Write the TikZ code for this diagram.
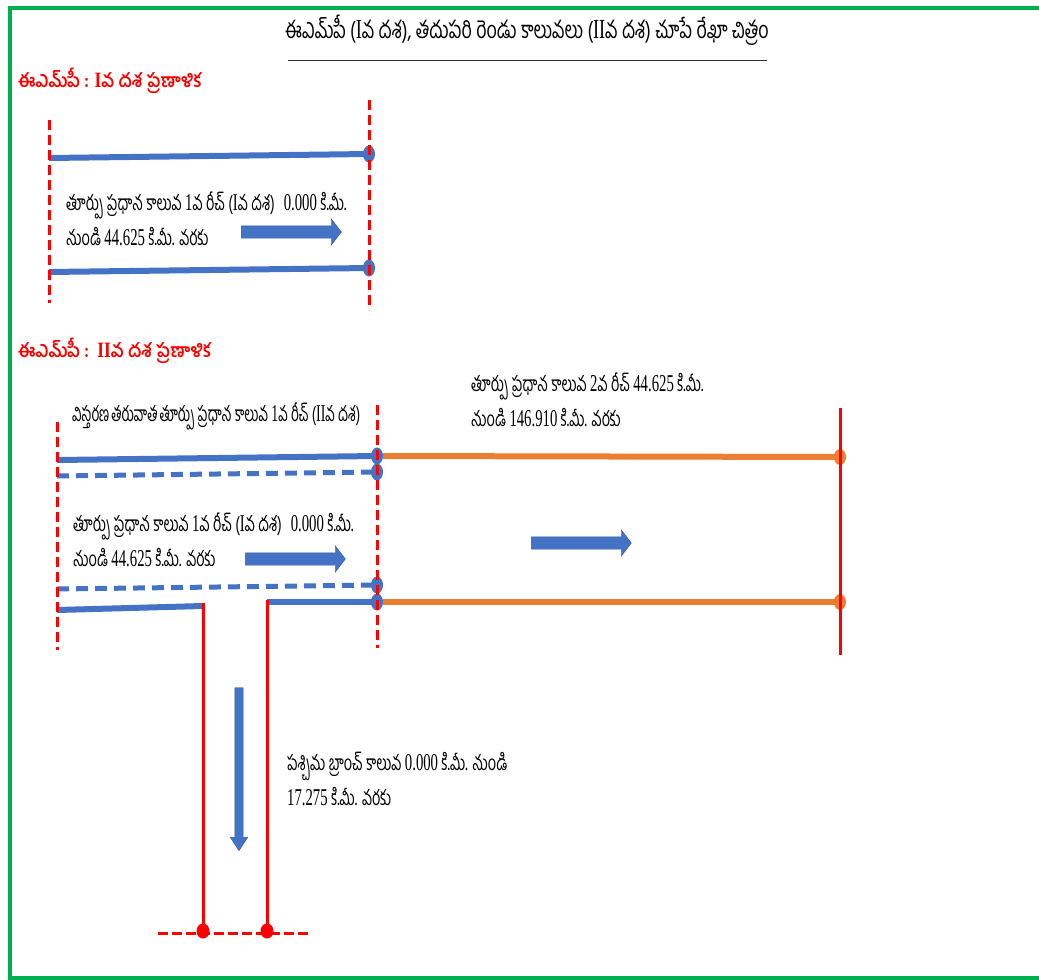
\documentclass[tikz,border=0pt]{standalone}
\usepackage{fontspec}
\setmainfont[Script=Telugu,FakeStretch=0.69]{Hind Guntur}
\newfontfamily\lat[Scale=1.15,FakeStretch=0.61]{Liberation Serif}
\usetikzlibrary{shapes.arrows, shapes.geometric, positioning}
\definecolor{mblue}{HTML}{4472C4}
\definecolor{morange}{HTML}{ED7D31}
\definecolor{mred}{HTML}{FF0000}
\definecolor{mgreen}{HTML}{00B050}
\newcommand{\wide}[2]{\scalebox{#1}[1]{#2}}
\tikzstyle{greenframe} = [mgreen, line width=4pt]
\tikzstyle{titletext} = [anchor=base, inner sep=0, font=\fontsize{24}{28}\selectfont]
\tikzstyle{heading} = [anchor=base west, inner sep=0, text=mred, font=\fontsize{19}{22}\selectfont\bfseries]
\tikzstyle{note} = [anchor=base west, inner sep=0, align=left, font=\fontsize{21}{35}\selectfont]
\tikzstyle{canal} = [mblue, line width=6pt]
\tikzstyle{oldcanal} = [mblue, line width=5pt, dash pattern=on 12pt off 7pt]
\tikzstyle{newcanal} = [morange, line width=6pt]
\tikzstyle{limit} = [mred, line width=3pt, dash pattern=on 10pt off 5pt]
\tikzstyle{endline} = [mred, line width=3pt]
\tikzstyle{offtake} = [mred, line width=3pt, dash pattern=on 10pt off 4pt]
\tikzstyle{bluejoint} = [ellipse, fill=mblue, inner sep=0, minimum width=12pt, minimum height=17pt]
\tikzstyle{orangejoint} = [ellipse, fill=morange, inner sep=0, minimum width=12pt, minimum height=16pt]
\tikzstyle{redjoint} = [ellipse, fill=mred, inner sep=0, minimum width=13pt, minimum height=15pt]
\tikzstyle{flow} = [single arrow, fill=mblue, draw=mblue!80!black, thin, inner xsep=0, inner ysep=6pt, single arrow head extend=7pt, single arrow tip angle=105, minimum height=100pt]
\tikzstyle{flowdown} = [single arrow, fill=mblue, draw=mblue!80!black, thin, inner xsep=0, inner ysep=4pt, single arrow head extend=4.5pt, single arrow tip angle=66, minimum height=163pt, rotate=-90]

\begin{document}
\begin{tikzpicture}[x=1pt, y=-1pt]
  \useasboundingbox (0,0) rectangle (1039,980);
  \draw [greenframe] (1045,8) -- (10,8) -- (10,978) -- (1045,978);

  % title
  \node (title) [titletext] at (527,38) {\wide{1.08}{ఈఎమ్‌పీ ({\lat I}వ దశ), తదుపరి రెండు కాలువలు ({\lat II}వ దశ) చూపే రేఖా చిత్రం}};
  \coordinate (ruleL) at (288,60);
  \coordinate (ruleR) at (767,60);
  \draw [black!80, line width=1pt] (ruleL) -- (ruleR);

  % phase I
  \node (head1) [heading] at (18,87) {\wide{1.3}{ఈఎమ్‌పీ : {\lat I}వ దశ ప్రణాళిక}};
  \coordinate (aTop) at (49,158);
  \coordinate (aBot) at (49,272);
  \node (aTopEnd) [bluejoint] at (369,154) {};
  \node (aBotEnd) [bluejoint] at (369,268) {};
  \draw [canal] (aTop) -- (aTopEnd.center);
  \draw [canal] (aBot) -- (aBotEnd.center);
  \coordinate (limA1) at (49,120);
  \coordinate (limA2) at (49,303);
  \coordinate (limB1) at (369,100);
  \coordinate (limB2) at (369,310);
  \draw [limit] (limA1) -- (limA2);
  \draw [limit] (limB1) -- (limB2);
  \node (reach1) [note] at (66,245) {తూర్పు ప్రధాన కాలువ {\lat 1}వ రీచ్ ({\lat I}వ దశ)\hspace{9pt}{\lat 0.000} కి.మీ.\\నుండి {\lat 44.625} కి.మీ. వరకు};
  \node (flow1) [flow] at (289,232) {};

  % phase II
  \node (head2) [heading] at (18,357) {\wide{1.3}{ఈఎమ్‌పీ :\ \ {\lat II}వ దశ ప్రణాళిక}};
  \node (widened) [note] at (72,421) {\wide{0.94}{విస్తరణ\hspace{2pt}తరువాత\hspace{2pt}తూర్పు ప్రధాన కాలువ {\lat 1}వ రీచ్ ({\lat II}వ దశ)}};
  \node (reach2) [note] at (471,426) {తూర్పు ప్రధాన కాలువ {\lat 2}వ రీచ్ {\lat 44.625} కి.మీ.\\నుండి {\lat 146.910} కి.మీ. వరకు};
  \node (reach1b) [note] at (73,566) {తూర్పు ప్రధాన కాలువ {\lat 1}వ రీచ్ ({\lat I}వ దశ)\hspace{9pt}{\lat 0.000} కి.మీ.\\నుండి {\lat 44.625} కి.మీ. వరకు};
  \node (flow2) [flow] at (293,559) {};
  \node (flow3) [flow] at (579,543) {};

  \coordinate (bTop) at (57,460);
  \coordinate (bTopOld) at (57,476);
  \coordinate (bBotOld) at (57,589);
  \coordinate (bBot) at (57,610);
  \coordinate (offL) at (203,606);
  \coordinate (offR) at (267,602);
  \node (bTopOldEnd) [bluejoint] at (377,472) {};
  \node (bTopEnd) [bluejoint] at (377,456) {};
  \node (bBotOldEnd) [bluejoint] at (377,585) {};
  \node (bBotEnd) [bluejoint] at (377,602) {};
  \node (cTopEnd) [orangejoint] at (840,457) {};
  \node (cBotEnd) [orangejoint] at (840,602) {};
  \draw [oldcanal] (bTopOld) -- (bTopOldEnd.center);
  \draw [oldcanal] (bBotOld) -- (bBotOldEnd.center);
  \draw [canal] (bTop) -- (bTopEnd.center);
  \draw [canal] (bBot) -- (offL);
  \draw [canal] (offR) -- (bBotEnd.center);
  \draw [newcanal] (bTopEnd.east) -- (cTopEnd.center);
  \draw [newcanal] (bBotEnd.east) -- (cBotEnd.center);

  \coordinate (limC1) at (57,422);
  \coordinate (limC2) at (57,650);
  \coordinate (limD1) at (377,405);
  \coordinate (limD2) at (377,648);
  \coordinate (limE1) at (840,408);
  \coordinate (limE2) at (840,655);
  \draw [limit] (limC1) -- (limC2);
  \draw [limit] (limD1) -- (limD2);
  \draw [endline] (limE1) -- (limE2);

  % west branch
  \coordinate (brL1) at (203,603);
  \coordinate (brR1) at (267,600);
  \node (brL2) [redjoint] at (203,931) {};
  \node (brR2) [redjoint] at (267,931) {};
  \draw [endline] (brL1) -- (brL2.center);
  \draw [endline] (brR1) -- (brR2.center);
  \coordinate (tailL) at (158,933);
  \coordinate (tailR) at (308,933);
  \draw [offtake] (tailL) -- (tailR);
  \node (flow4) [flowdown] at (239,766) {};
  \node (branch) [note] at (287,805) {పశ్చిమ బ్రాంచ్ కాలువ {\lat 0.000} కి.మీ. నుండి\\{\lat 17.275} కి.మీ. వరకు};
\end{tikzpicture}
\end{document}
